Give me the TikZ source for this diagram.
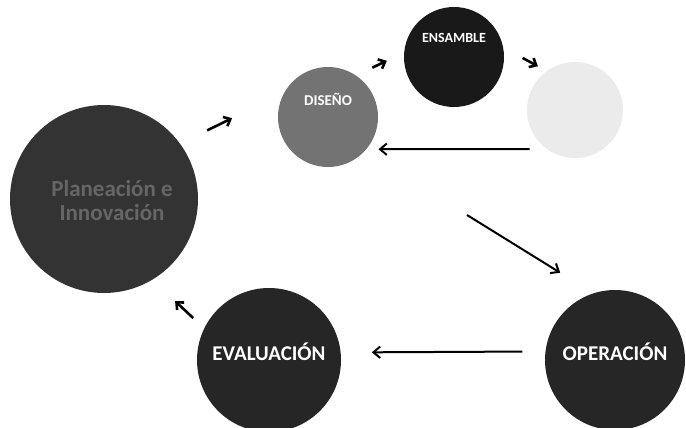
\documentclass[tikz,border=0pt]{standalone}
\usepackage{fontspec}
\setmainfont{Carlito}
\usepackage{tikz}
\usetikzlibrary{arrows.meta, calc}
\tikzset{
    phasecircle/.style={circle, fill=black!85, draw=none, inner sep=0pt},
    phaselabel/.style={font=\bfseries\fontsize{21}{23}\selectfont, text=white, inner sep=0pt},
    smalllabel/.style={font=\bfseries\fontsize{14}{16}\selectfont, text=white, inner sep=0pt},
    planlabel/.style={font=\bfseries\fontsize{23}{24}\selectfont, text=black!60, align=center, inner sep=0pt},
    cyclearrow/.style={-{Straight Barb[length=2.4mm, width=4mm]}, line width=2pt, black},
    stepjump/.style={-{Straight Barb[length=2mm, width=3.6mm]}, line width=2.6pt, black},
}
\begin{document}
\begin{tikzpicture}[x=1pt, y=-1pt]
    \useasboundingbox (0,0) rectangle (686,428);
    \node[phasecircle, fill=black!80, minimum size=188pt] (plan) at (104,199) {};
    \node[phasecircle, fill=black!55, minimum size=100pt] (dis) at (328,117) {};
    \node[phasecircle, fill=black!90, minimum size=100pt] (ens) at (454,57) {};
    \node[phasecircle, fill=black!8, minimum size=96pt] (prue) at (575,110) {};
    \node[phasecircle, minimum size=144pt] (eval) at (269,360) {};
    \node[phasecircle, minimum size=140pt] (oper) at (615,360) {};

    \node[planlabel] (plantxt) at (112,201) {Planeación e\\Innovación};
    \node[smalllabel, font=\bfseries\fontsize{15}{17}\selectfont] (distxt) at (328,99) {DISEÑO};
    \node[smalllabel] (enstxt) at (454,38) {ENSAMBLE};
    \node[phaselabel] (evaltxt) at (269,352) {EVALUACIÓN};
    \node[phaselabel] (opertxt) at (615,352) {OPERACIÓN};

    \coordinate (bajada) at (467,215);

    \draw[stepjump, shorten <=30pt, shorten >=58pt] (plan.36.5) -- (dis.151);
    \draw[stepjump, shorten <=18pt, shorten >=19pt] (dis.56) -- (ens.175);
    \draw[stepjump, shorten <=22pt, shorten >=10pt] (ens.11) -- (prue.126);
    \draw[cyclearrow, shorten <=17pt, shorten >=12pt] (prue.234) -- (dis.320);
    \draw[cyclearrow, shorten >=39pt] (bajada) -- (oper.108);
    \draw[cyclearrow, shorten <=23pt, shorten >=31pt] (oper.173.4) -- (eval.6.4);
    \draw[stepjump, shorten <=15pt, shorten >=31pt] (eval.154) -- (plan.301);
\end{tikzpicture}
\end{document}
